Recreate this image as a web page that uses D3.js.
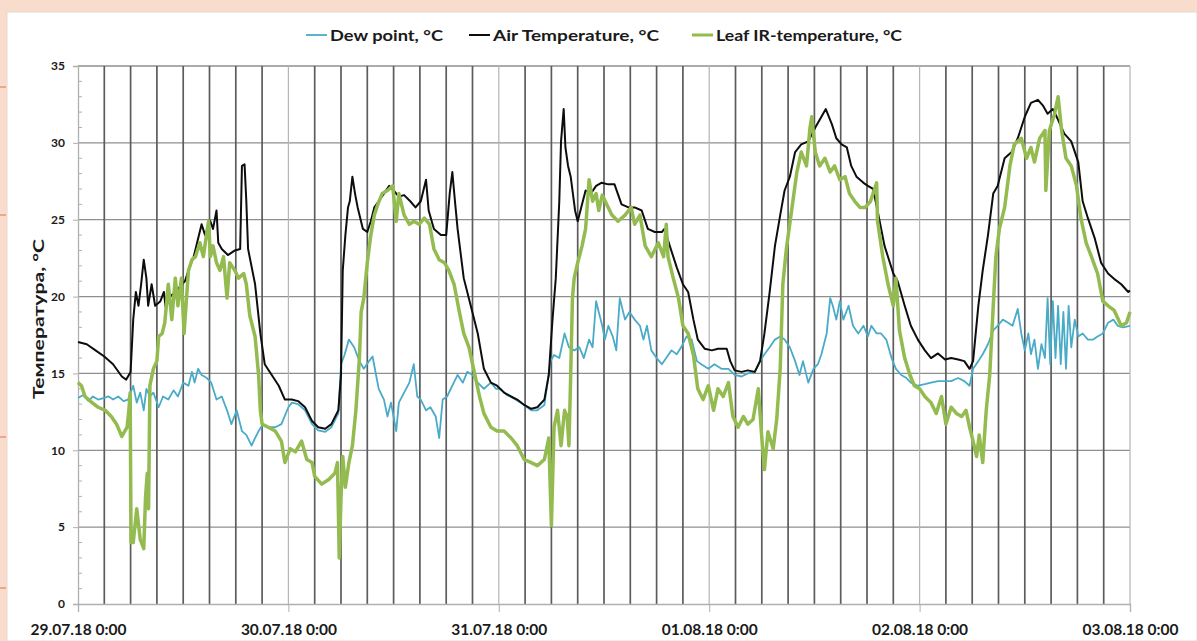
<!DOCTYPE html>
<html><head><meta charset="utf-8">
<script src="https://cdn.jsdelivr.net/npm/d3@7"></script>
<style>
html,body{margin:0;padding:0;background:#fff;}
svg{display:block;}
text{font-family:Lato,"Open Sans",sans-serif;font-weight:bold;fill:#1a1a1a;}
</style></head>
<body>
<svg id="chart" width="1197" height="641"></svg>
<script>
// ---- data (hours since 29.07.18 0:00, °C) ----
const dayLabels = ["29.07.18 0:00","30.07.18 0:00","31.07.18 0:00","01.08.18 0:00","02.08.18 0:00","03.08.18 0:00"];
const yTicks = [0,5,10,15,20,25,30,35];
const seriesNames = ["Dew point, °C","Air Temperature, °C","Leaf IR-temperature, °C"];

const dewPoint = [[0,13.4],[0.6,13.6],[1.2,13.2],[1.7,13.5],[2.3,13.3],[2.9,13.4],[3.5,13.5],[4.0,13.3],[4.6,13.5],[5.2,13.2],[5.7,13.3],[6.3,14.2],[6.7,13.1],[7.1,13.75],[7.5,12.6],[7.8,14.0],[8.2,13.5],[8.6,13.75],[9.2,12.8],[9.7,13.5],[10.3,13.3],[10.9,13.9],[11.4,13.5],[12.0,14.4],[12.6,14.2],[13.0,15.1],[13.3,14.4],[13.7,15.3],[14.1,14.9],[14.7,14.7],[15.2,14.4],[15.8,13.3],[16.4,13.5],[17.0,12.6],[17.5,11.7],[18.1,12.6],[18.7,11.25],[19.2,11.0],[19.8,10.3],[20.2,10.8],[20.6,11.25],[21.1,11.7],[21.7,11.5],[22.5,11.5],[23.2,11.7],[24.0,12.8],[24.4,13.1],[25.1,13.0],[25.9,12.6],[26.7,11.7],[27.4,11.3],[28.2,11.2],[28.9,11.5],[29.7,12.4],[30.0,15.6],[30.4,16.2],[30.9,17.2],[31.5,16.7],[32.1,15.8],[32.6,15.3],[33.2,15.8],[33.6,16.1],[34.0,14.9],[34.3,14.0],[34.9,13.3],[35.3,12.2],[35.7,13.1],[36.3,11.25],[36.6,13.1],[37.2,13.75],[37.8,14.4],[38.3,15.6],[38.7,13.5],[39.1,13.3],[39.7,12.6],[40.2,12.8],[40.8,12.2],[41.2,10.8],[41.6,13.3],[42.1,13.5],[42.7,14.2],[43.3,14.9],[43.9,14.4],[44.4,15.1],[45.0,14.9],[45.6,14.4],[46.3,14.0],[47.1,14.4],[47.7,14.0],[48.2,14.0],[48.9,13.6],[49.6,13.4],[50.5,13.1],[51.7,12.6],[52.4,12.6],[53.2,12.95],[53.9,15.8],[54.3,16.2],[54.9,16.0],[55.5,17.6],[56.0,16.7],[56.6,16.5],[57.2,16.7],[57.7,16.0],[58.3,17.2],[58.7,16.7],[59.1,19.7],[59.4,19.0],[59.8,18.1],[60.1,17.2],[60.5,18.1],[61.0,17.4],[61.4,16.5],[61.8,19.9],[62.4,18.5],[62.9,19.0],[63.5,18.5],[64.1,18.1],[64.5,17.2],[64.9,18.1],[65.4,16.5],[66.0,16.0],[66.6,15.6],[67.1,16.0],[67.7,16.5],[68.3,16.25],[68.8,16.7],[69.4,17.4],[70.0,17.2],[70.6,15.8],[71.1,15.6],[71.9,15.3],[72.6,15.6],[73.4,15.3],[74.2,15.3],[74.9,14.9],[75.7,14.8],[76.4,15.0],[77.2,15.1],[77.8,15.8],[78.3,16.25],[78.9,16.7],[79.5,17.2],[80.1,17.4],[80.6,17.2],[81.2,16.7],[81.8,15.8],[82.3,14.9],[82.7,15.8],[83.3,14.4],[83.9,15.3],[84.4,15.6],[84.8,16.25],[85.4,17.6],[85.8,19.9],[86.1,19.4],[86.5,18.5],[86.9,19.7],[87.3,18.5],[87.9,19.4],[88.4,18.1],[89.0,17.6],[89.6,18.1],[90.1,17.4],[90.5,18.1],[91.1,17.6],[91.6,17.6],[92.2,17.2],[92.8,16.0],[93.3,15.3],[93.9,14.9],[94.5,14.7],[95.0,14.4],[95.8,14.2],[96.6,14.3],[97.3,14.4],[98.1,14.5],[98.9,14.5],[99.6,14.5],[100.4,14.7],[101.1,14.5],[101.7,14.2],[102.1,15.3],[102.7,15.8],[103.2,16.25],[103.8,16.9],[104.4,17.8],[104.9,18.1],[105.5,18.5],[106.1,18.3],[106.6,18.1],[107.2,19.2],[107.6,17.6],[108.0,16.5],[108.4,17.6],[108.7,16.25],[109.1,17.2],[109.5,15.3],[109.9,16.9],[110.3,16.0],[110.6,19.9],[110.9,15.6],[111.2,19.7],[111.5,16.0],[111.8,19.4],[112.1,15.6],[112.4,19.0],[112.7,15.3],[113.0,19.4],[113.3,16.7],[113.7,18.5],[114.1,17.4],[114.6,17.6],[115.2,17.2],[115.8,17.2],[116.3,17.4],[116.9,17.6],[117.5,18.3],[118.1,18.5],[118.6,18.1],[119.2,18.0],[120,18.1]];

const airTemp = [[0,17.05],[1,16.9],[2,16.5],[3,16.1],[4,15.6],[5,14.8],[5.5,14.6],[6,15.1],[6.3,18.5],[6.6,20.3],[6.9,19.4],[7.2,20.8],[7.5,22.4],[7.8,21.2],[8.0,19.4],[8.4,20.8],[8.8,19.4],[9.4,19.7],[9.8,20.3],[10.0,19.3],[10.5,20.0],[11.1,20.3],[12.2,21.0],[12.6,21.7],[13.2,22.6],[13.8,24.0],[14.1,24.7],[14.5,24.0],[15.1,24.9],[15.4,24.4],[15.8,25.6],[16.0,23.5],[16.4,23.1],[17.1,22.7],[17.9,23.0],[18.5,23.1],[18.7,28.5],[19.0,28.6],[19.2,26.2],[19.4,23.1],[20.2,20.8],[20.8,17.6],[21.3,15.6],[22.1,14.9],[22.9,14.2],[23.6,13.3],[24.4,13.3],[25.1,13.2],[25.9,12.8],[26.7,11.9],[27.4,11.5],[28.2,11.4],[28.9,11.7],[29.7,12.6],[30.0,14.9],[30.2,21.7],[30.5,24.0],[30.8,25.8],[31.0,26.2],[31.3,27.8],[31.6,26.7],[31.9,25.8],[32.5,24.4],[33.0,24.2],[33.4,24.9],[33.8,25.8],[34.3,26.2],[34.9,26.7],[35.5,27.2],[36.0,26.9],[36.6,26.5],[37.2,26.6],[37.9,26.2],[38.5,25.8],[39.1,26.2],[39.7,27.6],[40.0,25.6],[40.6,24.4],[41.4,24.0],[42.0,24.0],[42.4,26.7],[42.7,28.1],[43.0,26.2],[43.3,24.4],[44.0,21.2],[44.8,19.4],[45.6,17.6],[46.3,15.3],[47.1,14.4],[47.8,14.2],[48.6,13.75],[49.4,13.5],[50.1,13.3],[50.9,12.95],[51.7,12.7],[52.4,12.8],[53.2,13.3],[53.7,14.9],[54.1,18.3],[54.5,21.2],[54.9,26.2],[55.1,30.1],[55.4,32.2],[55.6,29.7],[55.9,28.5],[56.2,27.8],[56.7,25.6],[57.0,24.9],[57.4,25.8],[57.9,26.9],[58.5,26.7],[59.1,27.2],[59.7,27.4],[60.5,27.3],[61.2,27.3],[62.0,26.0],[62.8,25.8],[63.5,25.8],[64.3,25.6],[65.0,24.4],[65.8,24.2],[66.6,24.2],[66.9,24.4],[67.5,23.3],[68.3,21.9],[69.0,20.8],[69.6,20.3],[70.2,18.5],[70.7,17.2],[71.5,16.6],[72.3,16.5],[73.0,16.6],[74.0,16.6],[74.4,15.8],[74.9,15.2],[75.7,15.1],[76.4,15.2],[77.2,15.1],[77.8,15.8],[78.3,17.6],[78.9,20.3],[79.5,23.3],[80.1,25.3],[80.6,26.9],[81.2,27.8],[81.8,29.4],[82.5,29.9],[83.3,30.1],[84.1,31.0],[84.8,31.7],[85.3,32.2],[86.0,31.2],[86.5,30.3],[87.1,29.9],[87.7,29.7],[88.2,28.5],[88.8,27.8],[89.6,27.4],[90.1,27.2],[90.7,27.0],[91.2,25.6],[92.0,23.3],[93.0,21.5],[93.5,21.0],[94.3,19.4],[95.0,18.1],[95.8,17.2],[96.6,16.5],[97.3,16.0],[98.1,16.3],[98.9,15.9],[99.6,16.0],[100.4,15.9],[101.1,15.8],[101.7,15.3],[102.1,15.8],[102.7,19.4],[103.2,21.7],[103.8,24.0],[104.4,26.7],[104.9,27.2],[105.7,29.0],[106.5,29.4],[107.2,30.3],[108.0,31.7],[108.7,32.6],[109.5,32.8],[110.1,32.4],[110.6,31.9],[111.2,32.2],[111.8,31.5],[112.5,30.6],[113.3,30.1],[114.1,28.75],[114.6,26.2],[115.2,25.1],[116.0,23.75],[116.7,22.2],[117.5,21.5],[118.3,21.1],[119.0,20.8],[119.8,20.3],[120,20.4]];

const leafTemp = [[0,14.4],[0.4,14.2],[0.8,13.5],[1.6,13.1],[2.3,12.8],[3.1,12.6],[3.8,12.2],[4.4,11.7],[5.0,10.9],[5.6,11.5],[5.8,12.6],[5.95,13.75],[6.05,4.0],[6.3,4.0],[6.7,6.2],[7.1,4.2],[7.5,3.6],[7.7,6.9],[7.9,8.5],[8.05,6.2],[8.2,14.2],[8.6,15.3],[9.0,15.8],[9.2,17.4],[9.6,17.6],[9.9,18.3],[10.3,20.8],[10.7,18.5],[11.1,21.2],[11.4,19.4],[11.8,21.2],[12.1,17.6],[12.6,21.7],[13.0,22.4],[13.4,22.6],[13.9,23.5],[14.3,22.6],[14.7,24.2],[14.9,24.9],[15.1,22.6],[15.4,23.3],[15.8,22.2],[16.2,21.7],[16.6,22.6],[17.0,19.9],[17.3,22.2],[17.9,21.7],[18.3,21.2],[18.9,21.5],[19.2,20.8],[19.6,18.75],[20.2,17.4],[20.6,14.9],[20.8,12.6],[21.0,11.7],[21.7,11.5],[22.5,11.25],[23.2,10.6],[23.6,9.2],[24.2,10.1],[24.8,9.9],[25.5,10.6],[26.1,9.4],[26.7,9.2],[27.0,8.3],[27.8,7.8],[28.6,8.1],[29.3,8.5],[29.6,9.2],[29.8,3.0],[30.0,6.9],[30.2,9.6],[30.5,7.6],[30.9,9.2],[31.3,10.3],[31.7,12.6],[32.1,16.0],[32.3,19.0],[32.6,19.9],[33.0,22.2],[33.4,24.0],[33.8,25.3],[34.2,26.0],[34.7,26.7],[35.3,26.9],[35.9,27.2],[36.3,24.9],[36.6,26.7],[37.2,25.3],[37.8,24.7],[38.3,24.9],[38.9,24.7],[39.5,25.1],[40.1,24.7],[40.6,23.1],[41.2,22.4],[41.8,22.2],[42.3,21.7],[42.9,20.8],[43.5,19.0],[44.0,17.6],[44.6,16.7],[45.2,15.1],[45.8,13.5],[46.3,12.4],[47.1,11.5],[47.8,11.25],[48.6,11.25],[49.4,10.8],[50.1,10.3],[50.9,9.4],[51.7,9.2],[52.4,9.0],[53.2,9.4],[53.7,10.8],[54.0,5.1],[54.3,11.5],[54.7,12.6],[55.1,10.3],[55.5,12.6],[55.8,12.2],[56.0,10.3],[56.2,14.9],[56.4,19.9],[56.6,21.2],[57.0,22.2],[57.5,23.3],[57.9,24.4],[58.3,27.6],[58.7,26.2],[59.1,26.7],[59.4,25.6],[59.8,26.6],[60.3,26.0],[60.9,25.3],[61.6,24.9],[62.4,25.3],[63.1,25.8],[63.5,24.7],[64.1,25.3],[64.7,23.3],[65.4,22.6],[66.2,23.5],[66.8,22.6],[67.1,24.7],[67.3,22.6],[67.9,21.2],[68.5,19.9],[69.0,18.1],[69.6,17.6],[70.2,16.2],[70.7,14.0],[71.3,13.3],[71.9,14.2],[72.5,12.6],[73.0,14.0],[73.6,13.5],[74.2,14.4],[74.7,12.2],[75.3,11.5],[75.9,12.2],[76.4,11.7],[77.0,12.0],[77.6,14.0],[78.0,10.8],[78.3,8.75],[78.7,11.2],[79.3,10.1],[79.7,12.0],[80.1,15.3],[80.4,20.8],[80.8,23.1],[81.4,25.6],[82.0,28.1],[82.5,29.4],[83.1,28.5],[83.5,31.0],[83.7,31.7],[84.1,29.4],[84.6,28.5],[85.2,29.0],[85.8,28.1],[86.3,28.5],[86.9,27.6],[87.5,27.8],[88.0,26.7],[88.6,26.2],[89.2,25.8],[89.8,25.8],[90.4,26.2],[91.1,27.4],[91.2,24.9],[91.8,22.6],[92.4,20.8],[93.0,19.4],[93.3,21.2],[93.7,17.8],[94.3,16.0],[94.9,14.9],[95.4,14.2],[96.0,14.0],[96.6,13.5],[97.3,13.1],[97.9,12.4],[98.5,13.5],[99.0,11.7],[99.6,12.8],[100.2,12.4],[100.8,12.2],[101.3,12.6],[101.7,11.5],[102.1,10.6],[102.5,9.6],[102.8,11.0],[103.2,9.2],[103.6,12.6],[104.0,14.9],[104.4,19.4],[104.7,22.6],[105.1,24.4],[105.7,25.8],[106.3,28.5],[106.8,29.9],[107.6,30.3],[108.2,29.0],[108.7,29.7],[109.1,28.75],[109.7,30.3],[110.3,30.8],[110.4,26.9],[110.8,30.8],[111.4,31.9],[111.8,33.0],[112.2,30.8],[112.7,29.0],[113.3,28.5],[113.9,27.2],[114.4,25.1],[115.0,23.5],[115.6,22.6],[116.3,21.5],[116.9,19.7],[117.5,19.4],[118.2,19.1],[119.0,18.1],[119.6,18.3],[120,19.0]];

// ---- layout ----
const svg = d3.select("#chart");
const W = 1197, H = 641;
const L = 78, R = 1130, T = 66, B = 604;
const totalHours = 120;

const x = d3.scaleLinear().domain([0, totalHours]).range([L, R]);
const y = d3.scaleLinear().domain([0, 35]).range([B, T]);

// slide background
svg.append("rect").attr("width", W).attr("height", H).attr("fill", "#f8dccc");
svg.append("rect").attr("x", 7).attr("y", 12).attr("width", W - 7).attr("height", H - 12)
  .attr("fill", "#fff").attr("stroke", "#e6d8d0").attr("stroke-width", 1);
[87, 215, 437, 588].forEach(v => svg.append("line").attr("x1", 0).attr("x2", 6).attr("y1", v).attr("y2", v)
  .attr("stroke", "#e9a98a").attr("stroke-width", 2));

const g = svg.append("g");

// horizontal gridlines
g.append("g").selectAll("line").data(yTicks.filter(d => d > 0)).join("line")
  .attr("x1", L).attr("x2", R).attr("y1", d => y(d)).attr("y2", d => y(d))
  .attr("stroke", "#8f8f8f").attr("stroke-width", 1.3);

// vertical gridlines every 3 hours
const vHours = d3.range(3, totalHours + 1, 3);
g.append("g").selectAll("line").data(vHours).join("line")
  .attr("x1", d => x(d)).attr("x2", d => x(d)).attr("y1", T).attr("y2", B)
  .attr("stroke", d => d % 24 === 0 ? "#b5b5b5" : "#5c5c5c")
  .attr("stroke-width", d => d % 24 === 0 ? 1.2 : 1.7);

// y axis
const yAxis = d3.axisLeft(y).tickValues(yTicks).tickSize(5).tickPadding(8).tickFormat(d3.format("d"));
const ya = g.append("g").attr("transform", `translate(${L},0)`).call(yAxis);
ya.select(".domain").attr("stroke", "#b0b0b0").attr("stroke-width", 1.3);
ya.selectAll(".tick line").attr("stroke", "#b0b0b0");
ya.selectAll(".tick text").style("font-size", "12px").style("font-family", "Lato,sans-serif")
  .style("font-weight", "bold").attr("fill", "#222");
// minor ticks
g.append("g").selectAll("line").data(d3.range(0, 36, 1).filter(d => d % 5 !== 0)).join("line")
  .attr("x1", L).attr("x2", L + 4).attr("y1", d => y(d)).attr("y2", d => y(d))
  .attr("stroke", "#b0b0b0").attr("stroke-width", 1);

// x axis
const xAxis = d3.axisBottom(x).tickValues(d3.range(0, totalHours + 1, 24)).tickSize(8).tickPadding(12)
  .tickFormat((d, i) => dayLabels[i]);
const xa = g.append("g").attr("transform", `translate(0,${B})`).call(xAxis);
xa.select(".domain").attr("stroke", "#b0b0b0").attr("stroke-width", 1.3);
xa.selectAll(".tick line").attr("stroke", "#b0b0b0");
xa.selectAll(".tick text").style("font-size", "15.5px").style("font-family", "Lato,sans-serif")
  .style("font-weight", "bold").attr("fill", "#1a1a1a");

// y title
svg.append("text").attr("transform", `translate(44,${319}) rotate(-90)`).attr("text-anchor", "middle")
  .style("font-size", "15px").attr("textLength", 160).attr("lengthAdjust", "spacingAndGlyphs")
  .text("Температура, °C");

// series
const line = d3.line().x(d => x(d[0])).y(d => y(d[1]));
const series = [
  {name: seriesNames[0], data: dewPoint, color: "#4aabc9", width: 1.8},
  {name: seriesNames[1], data: airTemp, color: "#0d0d0d", width: 2},
  {name: seriesNames[2], data: leafTemp, color: "#93bb4f", width: 3.5}
];
const plot = svg.append("g");
plot.selectAll("path").data(series).join("path")
  .attr("d", d => line(d.data)).attr("fill", "none")
  .attr("stroke", d => d.color).attr("stroke-width", d => d.width)
  .attr("stroke-linejoin", "round");

// legend
const legendX = [306, 469, 692];
const legendLen = [113, 166, 186];
const lg = svg.append("g");
series.forEach((s, i) => {
  lg.append("line").attr("x1", legendX[i]).attr("x2", legendX[i] + 21).attr("y1", 35).attr("y2", 35)
    .attr("stroke", s.color).attr("stroke-width", Math.min(s.width, 3));
  lg.append("text").attr("x", legendX[i] + 24).attr("y", 40.5).style("font-size", "16px")
    .attr("textLength", legendLen[i]).attr("lengthAdjust", "spacingAndGlyphs").text(s.name);
});
</script>
</body></html>
